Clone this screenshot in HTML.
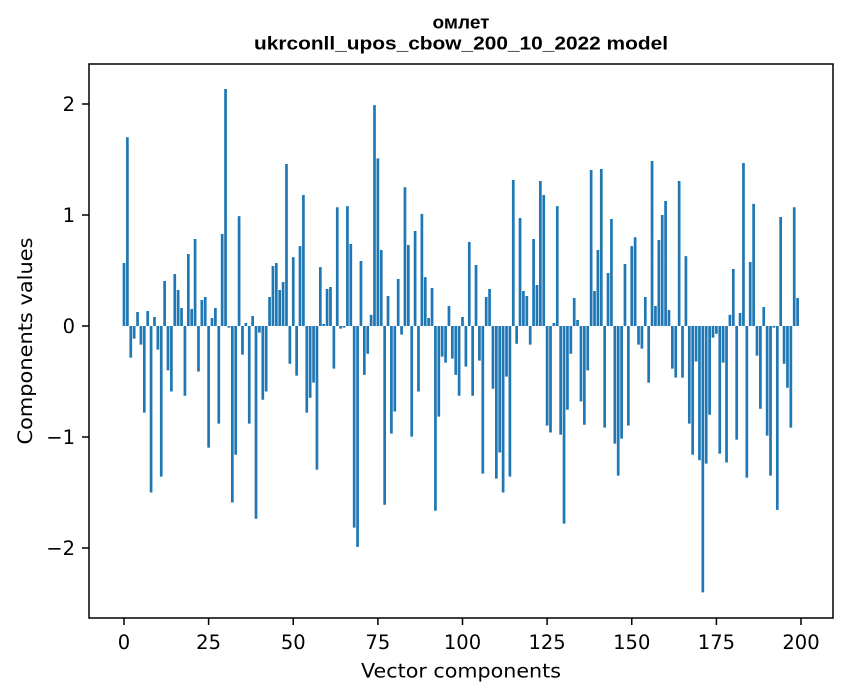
<!DOCTYPE html>
<html><head><meta charset="utf-8"><style>html,body{margin:0;padding:0;background:#fff}svg{display:block}</style></head>
<body>
<svg width="847" height="696" viewBox="0 0 847 696" xmlns="http://www.w3.org/2000/svg">
<rect x="0" y="0" width="847" height="696" fill="#fff"/>
<g transform="translate(124,326) scale(3.385,-111)">
<path fill="#1f77b4" d="M-.4 0h.8v.568h-.8zM.6 0h.8v1.7h-.8zM1.6 0h.8v-.285h-.8zM2.6 0h.8v-.114h-.8zM3.6 0h.8v.126h-.8zM4.6 0h.8v-.168h-.8zM5.6 0h.8v-.78h-.8zM6.6 0h.8v.135h-.8zM7.6 0h.8v-1.5h-.8zM8.6 0h.8v.081h-.8zM9.6 0h.8v-.213h-.8zM10.6 0h.8v-1.357h-.8zM11.6 0h.8v.405h-.8zM12.6 0h.8v-.4h-.8zM13.6 0h.8v-.59h-.8zM14.6 0h.8v.468h-.8zM15.6 0h.8v.324h-.8zM16.6 0h.8v.162h-.8zM17.6 0h.8v-.628h-.8zM18.6 0h.8v.649h-.8zM19.6 0h.8v.153h-.8zM20.6 0h.8v.784h-.8zM21.6 0h.8v-.41h-.8zM22.6 0h.8v.234h-.8zM23.6 0h.8v.261h-.8zM24.6 0h.8v-1.096h-.8zM25.6 0h.8v.072h-.8zM26.6 0h.8v.162h-.8zM27.6 0h.8v-.88h-.8zM28.6 0h.8v.829h-.8zM29.6 0h.8v2.135h-.8zM30.6 0h.8v-.015h-.8zM31.6 0h.8v-1.59h-.8zM32.6 0h.8v-1.16h-.8zM33.6 0h.8v.99h-.8zM34.6 0h.8v-.258h-.8zM35.6 0h.8v.027h-.8zM36.6 0h.8v-.88h-.8zM37.6 0h.8v.09h-.8zM38.6 0h.8v-1.736h-.8zM39.6 0h.8v-.06h-.8zM40.6 0h.8v-.664h-.8zM41.6 0h.8v-.59h-.8zM42.6 0h.8v.261h-.8zM43.6 0h.8v.54h-.8zM44.6 0h.8v.568h-.8zM45.6 0h.8v.324h-.8zM46.6 0h.8v.396h-.8zM47.6 0h.8v1.46h-.8zM48.6 0h.8v-.34h-.8zM49.6 0h.8v.62h-.8zM50.6 0h.8v-.447h-.8zM51.6 0h.8v.72h-.8zM52.6 0h.8v1.18h-.8zM53.6 0h.8v-.78h-.8zM54.6 0h.8v-.646h-.8zM55.6 0h.8v-.51h-.8zM56.6 0h.8v-1.294h-.8zM57.6 0h.8v.53h-.8zM58.6 0h.8v.018h-.8zM59.6 0h.8v.333h-.8zM60.6 0h.8v.351h-.8zM61.6 0h.8v-.384h-.8zM62.6 0h.8v1.07h-.8zM63.6 0h.8v-.024h-.8zM64.6 0h.8v-.015h-.8zM65.6 0h.8v1.08h-.8zM66.6 0h.8v.739h-.8zM67.6 0h.8v-1.817h-.8zM68.6 0h.8v-1.99h-.8zM69.6 0h.8v.586h-.8zM70.6 0h.8v-.44h-.8zM71.6 0h.8v-.25h-.8zM72.6 0h.8v.1h-.8zM73.6 0h.8v1.99h-.8zM74.6 0h.8v1.51h-.8zM75.6 0h.8v.685h-.8zM76.6 0h.8v-1.61h-.8zM77.6 0h.8v.27h-.8zM78.6 0h.8v-.97h-.8zM79.6 0h.8v-.77h-.8zM80.6 0h.8v.423h-.8zM81.6 0h.8v-.078h-.8zM82.6 0h.8v1.25h-.8zM83.6 0h.8v.73h-.8zM84.6 0h.8v-.997h-.8zM85.6 0h.8v.856h-.8zM86.6 0h.8v-.59h-.8zM87.6 0h.8v1.01h-.8zM88.6 0h.8v.44h-.8zM89.6 0h.8v.072h-.8zM90.6 0h.8v.342h-.8zM91.6 0h.8v-1.664h-.8zM92.6 0h.8v-.817h-.8zM93.6 0h.8v-.276h-.8zM94.6 0h.8v-.33h-.8zM95.6 0h.8v.18h-.8zM96.6 0h.8v-.294h-.8zM97.6 0h.8v-.44h-.8zM98.6 0h.8v-.628h-.8zM99.6 0h.8v.081h-.8zM100.6 0h.8v-.366h-.8zM101.6 0h.8v.757h-.8zM102.6 0h.8v-.628h-.8zM103.6 0h.8v.55h-.8zM104.6 0h.8v-.312h-.8zM105.6 0h.8v-1.33h-.8zM106.6 0h.8v.261h-.8zM107.6 0h.8v.333h-.8zM108.6 0h.8v-.565h-.8zM109.6 0h.8v-1.375h-.8zM110.6 0h.8v-1.14h-.8zM111.6 0h.8v-1.5h-.8zM112.6 0h.8v-.456h-.8zM113.6 0h.8v-1.357h-.8zM114.6 0h.8v1.315h-.8zM115.6 0h.8v-.16h-.8zM116.6 0h.8v.973h-.8zM117.6 0h.8v.315h-.8zM118.6 0h.8v.27h-.8zM119.6 0h.8v-.168h-.8zM120.6 0h.8v.784h-.8zM121.6 0h.8v.369h-.8zM122.6 0h.8v1.306h-.8zM123.6 0h.8v1.18h-.8zM124.6 0h.8v-.898h-.8zM125.6 0h.8v-.96h-.8zM126.6 0h.8v.027h-.8zM127.6 0h.8v1.08h-.8zM128.6 0h.8v-.98h-.8zM129.6 0h.8v-1.78h-.8zM130.6 0h.8v-.754h-.8zM131.6 0h.8v-.25h-.8zM132.6 0h.8v.252h-.8zM133.6 0h.8v.054h-.8zM134.6 0h.8v-.68h-.8zM135.6 0h.8v-.89h-.8zM136.6 0h.8v-.4h-.8zM137.6 0h.8v1.405h-.8zM138.6 0h.8v.315h-.8zM139.6 0h.8v.685h-.8zM140.6 0h.8v1.414h-.8zM141.6 0h.8v-.916h-.8zM142.6 0h.8v.477h-.8zM143.6 0h.8v.964h-.8zM144.6 0h.8v-1.06h-.8zM145.6 0h.8v-1.348h-.8zM146.6 0h.8v-1.015h-.8zM147.6 0h.8v.559h-.8zM148.6 0h.8v-.898h-.8zM149.6 0h.8v.72h-.8zM150.6 0h.8v.8h-.8zM151.6 0h.8v-.168h-.8zM152.6 0h.8v-.204h-.8zM153.6 0h.8v.261h-.8zM154.6 0h.8v-.51h-.8zM155.6 0h.8v1.486h-.8zM156.6 0h.8v.18h-.8zM157.6 0h.8v.775h-.8zM158.6 0h.8v1h-.8zM159.6 0h.8v1.126h-.8zM160.6 0h.8v.144h-.8zM161.6 0h.8v-.384h-.8zM162.6 0h.8v-.465h-.8zM163.6 0h.8v1.306h-.8zM164.6 0h.8v-.465h-.8zM165.6 0h.8v.63h-.8zM166.6 0h.8v-.88h-.8zM167.6 0h.8v-1.16h-.8zM168.6 0h.8v-.32h-.8zM169.6 0h.8v-1.21h-.8zM170.6 0h.8v-2.4h-.8zM171.6 0h.8v-1.24h-.8zM172.6 0h.8v-.8h-.8zM173.6 0h.8v-.105h-.8zM174.6 0h.8v-.07h-.8zM175.6 0h.8v-1.15h-.8zM176.6 0h.8v-.33h-.8zM177.6 0h.8v-1.23h-.8zM178.6 0h.8v.1h-.8zM179.6 0h.8v.514h-.8zM180.6 0h.8v-1.024h-.8zM181.6 0h.8v.117h-.8zM182.6 0h.8v1.468h-.8zM183.6 0h.8v-1.366h-.8zM184.6 0h.8v.577h-.8zM185.6 0h.8v1.1h-.8zM186.6 0h.8v-.267h-.8zM187.6 0h.8v-.745h-.8zM188.6 0h.8v.171h-.8zM189.6 0h.8v-.988h-.8zM190.6 0h.8v-1.348h-.8zM191.6 0h.8v-.015h-.8zM192.6 0h.8v-1.657h-.8zM193.6 0h.8v.982h-.8zM194.6 0h.8v-.34h-.8zM195.6 0h.8v-.556h-.8zM196.6 0h.8v-.916h-.8zM197.6 0h.8v1.07h-.8zM198.6 0h.8v.252h-.8z"/>
</g>
<rect x="89" y="64" width="744" height="554" fill="none" stroke="#000" stroke-width="1.5"/>
<g stroke="#000" stroke-width="1.5">
<line x1="124" y1="618" x2="124" y2="625"/>
<line x1="208.6" y1="618" x2="208.6" y2="625"/>
<line x1="293.25" y1="618" x2="293.25" y2="625"/>
<line x1="377.9" y1="618" x2="377.9" y2="625"/>
<line x1="462.5" y1="618" x2="462.5" y2="625"/>
<line x1="547.1" y1="618" x2="547.1" y2="625"/>
<line x1="631.75" y1="618" x2="631.75" y2="625"/>
<line x1="716.4" y1="618" x2="716.4" y2="625"/>
<line x1="801" y1="618" x2="801" y2="625"/>
<line x1="82" y1="104" x2="89" y2="104"/>
<line x1="82" y1="215" x2="89" y2="215"/>
<line x1="82" y1="326" x2="89" y2="326"/>
<line x1="82" y1="437" x2="89" y2="437"/>
<line x1="82" y1="548" x2="89" y2="548"/>
</g>
<g font-family="'DejaVu Sans', 'Liberation Sans', sans-serif" font-size="19.5" fill="#000" text-anchor="middle">
<text x="124" y="649">0</text>
<text x="208.6" y="649">25</text>
<text x="293.25" y="649">50</text>
<text x="377.9" y="649">75</text>
<text x="462.5" y="649">100</text>
<text x="547.1" y="649">125</text>
<text x="631.75" y="649">150</text>
<text x="716.4" y="649">175</text>
<text x="801" y="649">200</text>
</g>
<g font-family="'DejaVu Sans', 'Liberation Sans', sans-serif" font-size="19.5" fill="#000" text-anchor="end">
<text x="75" y="111">2</text>
<text x="75" y="222">1</text>
<text x="75" y="333">0</text>
<text x="75" y="444">−1</text>
<text x="75" y="555">−2</text>
</g>
<text x="461" y="677.5" font-family="'DejaVu Sans', 'Liberation Sans', sans-serif" font-size="19.5" text-anchor="middle" textLength="200" lengthAdjust="spacingAndGlyphs">Vector components</text>
<text transform="translate(32,341) rotate(-90)" x="0" y="0" font-family="'DejaVu Sans', 'Liberation Sans', sans-serif" font-size="19.5" text-anchor="middle" textLength="207" lengthAdjust="spacingAndGlyphs">Components values</text>
<text x="461" y="28.5" font-family="'Liberation Sans', 'DejaVu Sans', sans-serif" font-weight="bold" font-size="18.5" text-anchor="middle" textLength="57" lengthAdjust="spacingAndGlyphs">омлет</text>
<text x="461" y="49.5" font-family="'Liberation Sans', 'DejaVu Sans', sans-serif" font-weight="bold" font-size="18.5" text-anchor="middle" textLength="414" lengthAdjust="spacingAndGlyphs">ukrconll_upos_cbow_200_10_2022 model</text>
</svg>
</body></html>
